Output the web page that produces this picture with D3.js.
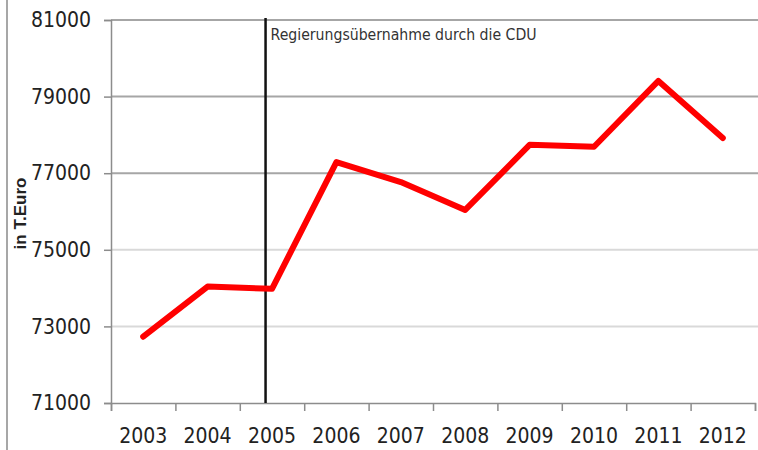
<!DOCTYPE html>
<html>
<head>
<meta charset="utf-8">
<script src="https://cdn.jsdelivr.net/npm/d3@7"></script>
<style>
  body { margin: 0; background: #fff; }
  svg { display: block; }
</style>
</head>
<body>
<div class="chart"></div>
<script>
const width = 758;
const height = 450;

// data
const years = [2003, 2004, 2005, 2006, 2007, 2008, 2009, 2010, 2011, 2012];
const values = [72730, 74040, 73980, 77290, 76770, 76040, 77740, 77690, 79410, 77920];
const yTicks = [71000, 73000, 75000, 77000, 79000, 81000];
const markerYear = 2004.9;
const markerLabel = "Regierungsübernahme durch die CDU";
const yTitle = "in T.Euro";

const margin = { top: 20, right: 3, bottom: 47, left: 111 };

const svg = d3
  .select(".chart")
  .append("svg")
  .attr("width", width)
  .attr("height", height);

const x = d3
  .scaleLinear()
  .domain([2002.5, 2012.5])
  .range([margin.left, width - margin.right]);

const y = d3
  .scaleLinear()
  .domain([71000, 81000])
  .range([height - margin.bottom, margin.top]);

// left frame line
svg.append("line")
  .attr("x1", 7).attr("x2", 7)
  .attr("y1", 0).attr("y2", height)
  .attr("stroke", "#8a8a8a")
  .attr("stroke-width", 1.5);

// horizontal grid
svg.append("g")
  .selectAll("line")
  .data(yTicks.slice(1))
  .enter()
  .append("line")
  .attr("x1", margin.left)
  .attr("x2", width)
  .attr("y1", d => y(d))
  .attr("y2", d => y(d))
  .attr("stroke", d => d >= 77000 ? "#a6a6a6" : "#d9d9d9")
  .attr("stroke-width", 2);

// y axis
const yAxis = svg.append("g")
  .attr("transform", `translate(${margin.left},0)`)
  .call(d3.axisLeft(y).tickValues(yTicks).tickSize(7).tickPadding(13).tickFormat(d3.format("d")));
yAxis.select(".domain").attr("stroke", "#8c8c8c").attr("stroke-width", 1.5);
yAxis.selectAll(".tick line").attr("stroke", "#8c8c8c").attr("stroke-width", 1.5);
yAxis.selectAll("text")
  .attr("fill", "#222")
  .style("font-family", "'Liberation Sans Narrow', 'DejaVu Sans Condensed', sans-serif")
  .style("font-size", "21px");

// x axis (ticks between the years)
const xAxis = svg.append("g")
  .attr("transform", `translate(0,${y(71000)})`)
  .call(d3.axisBottom(x)
    .tickValues(d3.range(2002.5, 2013, 1))
    .tickSize(8)
    .tickFormat(""));
xAxis.select(".domain").attr("stroke", "#8c8c8c").attr("stroke-width", 1.5);
xAxis.selectAll(".tick line").attr("stroke", "#8c8c8c").attr("stroke-width", 1.5);

svg.append("g")
  .selectAll("text")
  .data(years)
  .enter()
  .append("text")
  .attr("x", d => x(d))
  .attr("y", y(71000) + 40)
  .attr("text-anchor", "middle")
  .attr("fill", "#222")
  .style("font-family", "'Liberation Sans Narrow', 'DejaVu Sans Condensed', sans-serif")
  .style("font-size", "21px")
  .text(d => d);

// y title
svg.append("text")
  .attr("transform", `translate(26,${(y(71000) + y(81000)) / 2 + 2}) rotate(-90)`)
  .attr("text-anchor", "middle")
  .attr("fill", "#222")
  .style("font-family", "'Liberation Sans', Arial, sans-serif")
  .style("font-weight", "bold")
  .style("font-size", "17px")
  .text(yTitle);

// government change marker
svg.append("line")
  .attr("x1", x(markerYear)).attr("x2", x(markerYear))
  .attr("y1", y(81000) - 2).attr("y2", y(71000))
  .attr("stroke", "#111")
  .attr("stroke-width", 2.5);

svg.append("text")
  .attr("x", x(markerYear) + 5)
  .attr("y", y(81000) + 20)
  .attr("fill", "#333")
  .attr("textLength", 266)
  .attr("lengthAdjust", "spacingAndGlyphs")
  .style("font-family", "'Liberation Sans Narrow', 'DejaVu Sans Condensed', sans-serif")
  .style("font-size", "16px")
  .text(markerLabel);

// data line
const line = d3.line()
  .x((d, i) => x(years[i]))
  .y(d => y(d));

svg.append("path")
  .datum(values)
  .attr("fill", "none")
  .attr("stroke", "#ff0000")
  .attr("stroke-width", 6)
  .attr("stroke-linejoin", "round")
  .attr("stroke-linecap", "round")
  .attr("d", line);
</script>
</body>
</html>
